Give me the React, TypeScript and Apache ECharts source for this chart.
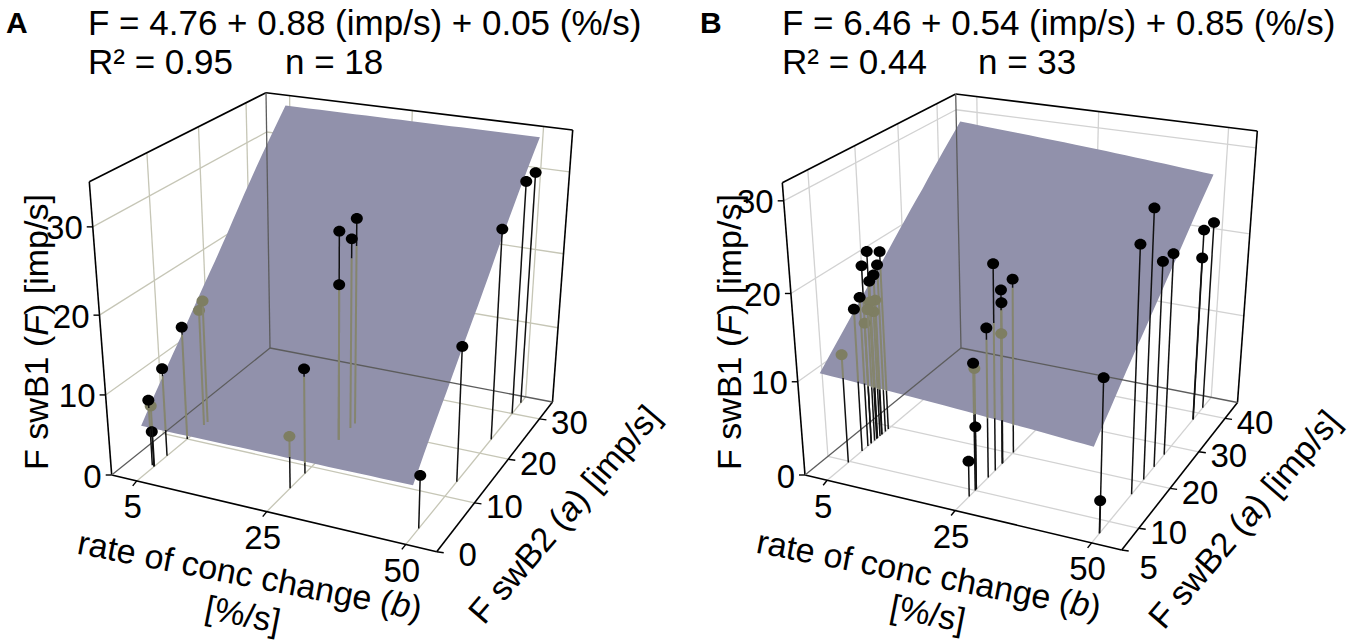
import React, { useEffect, useRef } from "react";
import * as echarts from "echarts";

type XY = [number, number];

// ---------------- data ----------------
// Panel A (n = 18): b = rate of conc change [%/s], a = F swB2 [imp/s], F = F swB1 [imp/s]
const rateA = [5, 4.6, 5, 5, 5, 5, 5, 25, 25, 25, 25, 25, 25, 50, 50, 50, 50, 50];
const swB2A = [3.4, 3.6, 3.5, 6.0, 10.0, 13.7, 14.5, 5.2, 8.5, 20.8, 16.7, 19.6, 16.7, 23.5, 30.0, 32.7, 13.4, 3.3];
const swB1A = [4.4, 8.2, 7.6, 11.1, 14.5, 15.1, 16.0, 6.4, 13.1, 26.4, 26.4, 24.4, 20.1, 26.6, 29.9, 30.0, 16.8, 6.3];

// Panel B (n = 33)
const rateB = [5, 5, 5, 5, 5, 5, 5, 5, 5, 5, 5, 5, 5, 5, 25, 25, 25, 25, 25, 25, 25, 25, 25, 25, 50, 50, 50, 50, 50, 50, 50, 50, 50];
const swB2B = [16.5, 19.3, 15.2, 18.6, 16.7, 17.7, 14.4, 13.0, 17.8, 16.6, 17.3, 15.2, 9.7, 16.0,
  15.4, 20.3, 17.3, 17.4, 13.5, 17.3, 10.0, 10.3, 10.3, 8.5,
  20.7, 16.9, 24.2, 27.6, 38.1, 41.7, 38.0, 7.3, 7.2];
const swB1B = [21.4, 20.5, 20.2, 19.2, 17.9, 18.3, 16.8, 15.9, 15.3, 15.5, 14.1, 13.5, 11.8, 14.8,
  22.8, 19.5, 19.3, 17.8, 16.3, 14.3, 13.6, 12.9, 6.6, 3.7,
  29.5, 26.8, 22.7, 22.5, 22.0, 21.8, 18.8, 16.0, 3.3];

// fitted plane: extent in (b, a) and its height F at corners LL, LR, UR, UL
const planeRateA = [5, 50];
const planeSwB2A = [1.5, 33.3];
const planeSwB1A = [6.1, 6.1, 34.1, 34.1];
const planeRateB = [5, 50];
const planeSwB2B = [5, 40.4];
const planeSwB1B = [11.5, 9.6, 27.7, 30.0];

// ticks
const rateTicks = [5, 25, 50];
const swB2TicksA = [0, 10, 20, 30];
const swB2TicksB = [5, 10, 20, 30, 40];
const swB1Ticks = [0, 10, 20, 30];

// axis scales (value knots -> fraction of the box edge)
const rateScaleA = { v: [1.15, 5, 25, 50, 55.55], f: [0, 0.077, 0.477, 0.905, 1] };
const swB2ScaleA = { v: [0, 10, 20, 30, 34.2], f: [0, 0.326, 0.618, 0.887, 1] };
const swB1ScaleA = { v: [0, 10, 20, 30, 35.1], f: [0, 0.273, 0.545, 0.846, 1] };
const rateScaleB = { v: [1.53, 5, 25, 50, 55.5], f: [0, 0.07, 0.474, 0.905, 1] };
const swB2ScaleB = { v: [5, 10, 20, 30, 40, 45], f: [0, 0.147, 0.418, 0.666, 0.892, 1] };
const swB1ScaleB = { v: [0, 10, 20, 30, 32], f: [0, 0.319, 0.621, 0.938, 1] };

// texts
const eqA = "F = 4.76 + 0.88 (imp/s) + 0.05 (%/s)";
const r2A = "R\u00B2 = 0.95";
const nA = "n = 18";
const eqB = "F = 6.46 + 0.54 (imp/s) + 0.85 (%/s)";
const r2B = "R\u00B2 = 0.44";
const nB = "n = 33";

// ---------------- layout ----------------
const FONT = 'Arial, "Liberation Sans", Helvetica, sans-serif';
const W = 1351;
const H = 640;

type Scale = { v: number[]; f: number[] };
type Corners = { O: XY; FR: XY; BR: XY; BL: XY; TL: XY; TFR: XY; TR: XY; TB: XY };
type Panel = { c: Corners; bS: Scale; aS: Scale; fS: Scale; grid: string; aFirstLabel: XY };

const panelA: Panel = {
  c: { O: [111.7, 475], FR: [436.7, 551.7], BR: [552.5, 402], BL: [270, 348], TL: [89.3, 181.7], TFR: [447.6, 236.1], TR: [572.7, 130], TB: [266, 92.7] },
  bS: rateScaleA, aS: swB2ScaleA, fS: swB1ScaleA, grid: "#c6c6b6", aFirstLabel: [31, 3],
};
const panelB: Panel = {
  c: { O: [805, 475], FR: [1121.7, 550], BR: [1237.5, 402.5], BL: [961, 348], TL: [782.3, 182.7], TFR: [1132, 234.2], TR: [1257.3, 131], TB: [955.7, 94] },
  bS: rateScaleB, aS: swB2ScaleB, fS: swB1ScaleB, grid: "#d2d2d2", aFirstLabel: [27, 17],
};

function warp(sc: Scale, v: number): number {
  const n = sc.v.length;
  let i = 0;
  if (v <= sc.v[0]) i = 0;
  else if (v >= sc.v[n - 1]) i = n - 2;
  else { while (i < n - 2 && v > sc.v[i + 1]) i++; }
  const u = (v - sc.v[i]) / (sc.v[i + 1] - sc.v[i]);
  return sc.f[i] + u * (sc.f[i + 1] - sc.f[i]);
}
function bil(p00: XY, p10: XY, p11: XY, p01: XY, s: number, t: number): XY {
  const a = (1 - s) * (1 - t), b = s * (1 - t), c = s * t, d = (1 - s) * t;
  return [a * p00[0] + b * p10[0] + c * p11[0] + d * p01[0], a * p00[1] + b * p10[1] + c * p11[1] + d * p01[1]];
}
function project(P: Panel, b: number, a: number, f: number): XY {
  const s = warp(P.bS, b), t = warp(P.aS, a), w = warp(P.fS, f);
  const c = P.c;
  const lo = bil(c.O, c.FR, c.BR, c.BL, s, t);
  const hi = bil(c.TL, c.TFR, c.TR, c.TB, s, t);
  return [lo[0] + w * (hi[0] - lo[0]), lo[1] + w * (hi[1] - lo[1])];
}
type Plane = { b: number[]; a: number[]; F: number[] };
function planeF(pl: Plane, b: number, a: number): number {
  const u = (b - pl.b[0]) / (pl.b[1] - pl.b[0]);
  const v = (a - pl.a[0]) / (pl.a[1] - pl.a[0]);
  return pl.F[0] * (1 - u) * (1 - v) + pl.F[1] * u * (1 - v) + pl.F[2] * u * v + pl.F[3] * (1 - u) * v;
}
function planePoly(P: Panel, pl: Plane): XY[] {
  const [b0, b1] = pl.b, [a0, a1] = pl.a;
  const n = 24;
  const pts: XY[] = [];
  const edge = (bs: number, as: number, be: number, ae: number) => {
    for (let k = 0; k < n; k++) {
      const u = k / n;
      const b = bs + (be - bs) * u, a = as + (ae - as) * u;
      pts.push(project(P, b, a, planeF(pl, b, a)));
    }
  };
  edge(b0, a0, b1, a0); edge(b1, a0, b1, a1); edge(b1, a1, b0, a1); edge(b0, a1, b0, a0);
  return pts;
}
function inside(p: XY, poly: XY[]): boolean {
  let c = false;
  for (let i = 0, j = poly.length - 1; i < poly.length; j = i++) {
    const [xi, yi] = poly[i], [xj, yj] = poly[j];
    if ((yi > p[1]) !== (yj > p[1]) && p[0] < ((xj - xi) * (p[1] - yi)) / (yj - yi) + xi) c = !c;
  }
  return c;
}

function panelSeries(P: Panel, rate: number[], swB2: number[], swB1: number[], pl: Plane, aTicks: number[]) {
  const bmin = P.bS.v[0], bmax = P.bS.v[P.bS.v.length - 1];
  const amin = P.aS.v[0], amax = P.aS.v[P.aS.v.length - 1];
  const fmax = P.fS.v[P.fS.v.length - 1];
  const pr = (b: number, a: number, f: number) => project(P, b, a, f);
  const poly = planePoly(P, pl);
  const data = rate.map((b, i) => [b, swB2[i], swB1[i]]);

  const frame = {
    type: "custom", coordinateSystem: "cartesian2d", silent: true, clip: false, z: 1,
    data: [[0, 0]],
    renderItem: (_p: any, api: any) => {
      const kids: any[] = [];
      const line = (p: XY, q: XY, stroke: string, lw: number) => {
        const A = api.coord(p), B = api.coord(q);
        kids.push({ type: "line", shape: { x1: A[0], y1: A[1], x2: B[0], y2: B[1] }, style: { stroke, lineWidth: lw } });
      };
      const text = (p: XY, dx: number, dy: number, str: string, align: string) => {
        const A = api.coord(p);
        kids.push({ type: "text", x: A[0] + dx, y: A[1] + dy, style: { text: str, fill: "#000", fontSize: 33, fontFamily: FONT, align, textAlign: align, verticalAlign: "middle", textVerticalAlign: "middle" } });
      };
      const g = P.grid;
      // left wall (b = min)
      aTicks.forEach((a) => { if (a > amin + 1e-6) line(pr(bmin, a, 0), pr(bmin, a, fmax), g, 1.3); });
      swB1Ticks.forEach((f) => { if (f > 0) line(pr(bmin, amin, f), pr(bmin, amax, f), g, 1.3); });
      // back wall (a = max)
      rateTicks.forEach((b) => line(pr(b, amax, 0), pr(b, amax, fmax), g, 1.3));
      swB1Ticks.forEach((f) => { if (f > 0) line(pr(bmin, amax, f), pr(bmax, amax, f), g, 1.3); });
      // floor
      rateTicks.forEach((b) => line(pr(b, amin, 0), pr(b, amax, 0), g, 1.3));
      aTicks.forEach((a) => { if (a > amin + 1e-6) line(pr(bmin, a, 0), pr(bmax, a, 0), g, 1.3); });
      // box edges
      const c = P.c;
      [[c.O, c.TL], [c.TL, c.TB], [c.TB, c.TR], [c.TR, c.BR], [c.O, c.FR], [c.FR, c.BR]].forEach(([p, q]) => line(p as XY, q as XY, "#000", 1.6));
      // ticks and labels
      swB1Ticks.forEach((f) => {
        const p = pr(bmin, amin, f);
        line(p, [p[0] - 6, p[1]], "#000", 1.4);
        text(p, -10, 1, String(f), "right");
      });
      rateTicks.forEach((b) => {
        const p = pr(b, amin, 0);
        line(p, [p[0] - 4, p[1] + 5], "#000", 1.4);
        text(p, -4, 26, String(b), "center");
      });
      aTicks.forEach((a, i) => {
        const p = pr(bmax, a, 0);
        line(p, [p[0] + 7, p[1] + 1], "#000", 1.4);
        const off: XY = i === 0 ? P.aFirstLabel : [30, 4];
        text(p, off[0], off[1], String(a), "center");
      });
      return { type: "group", children: kids };
    },
  };

  const plane = {
    type: "custom", coordinateSystem: "cartesian2d", silent: true, clip: false, z: 2,
    data: [[0, 0]],
    renderItem: (_p: any, api: any) => {
      const c = P.c;
      const kids: any[] = [{ type: "polygon", shape: { points: poly.map((p) => api.coord(p)) }, style: { fill: "#9191ab" } }];
      [[c.TB, c.BL], [c.BL, c.O], [c.BL, c.BR]].forEach(([p, q]) => {
        const A = api.coord(p), B = api.coord(q);
        kids.push({ type: "line", shape: { x1: A[0], y1: A[1], x2: B[0], y2: B[1] }, style: { stroke: "#5c5c5c", lineWidth: 1.3 } });
      });
      return { type: "group", children: kids };
    },
  };

  const stems = (behindLayer: boolean, z: number) => ({
    type: "custom", coordinateSystem: "cartesian2d", silent: true, clip: false, z,
    data,
    renderItem: (_p: any, api: any) => {
      const b = api.value(0), a = api.value(1), f = api.value(2);
      const pf = planeF(pl, b, a);
      const isBehind = (h: number) => h < pf && inside(pr(b, a, h), poly);
      const N = Math.max(10, Math.ceil(f * 3));
      const kids: any[] = [];
      let start = 0;
      let cls = isBehind(f / N / 2);
      const flush = (h0: number, h1: number, behind: boolean) => {
        if (behind !== behindLayer) return;
        const A = api.coord(pr(b, a, h0)), B = api.coord(pr(b, a, h1));
        kids.push({ type: "line", shape: { x1: A[0], y1: A[1], x2: B[0], y2: B[1] }, style: behind ? { stroke: "#85856e", lineWidth: 2 } : { stroke: "#111", lineWidth: 1.5 } });
      };
      for (let k = 1; k < N; k++) {
        const hm = (f * (k + 0.5)) / N;
        const cl = isBehind(hm);
        if (cl !== cls) { flush(start, (f * k) / N, cls); start = (f * k) / N; cls = cl; }
      }
      flush(start, f, cls);
      const headBehind = isBehind(f);
      if (headBehind === behindLayer) {
        const C = api.coord(pr(b, a, f));
        kids.push({ type: "ellipse", shape: { cx: C[0], cy: C[1], rx: 6, ry: 5.4 }, style: { fill: headBehind ? "#7e7e62" : "#000" } });
      }
      return { type: "group", children: kids };
    },
  });

  return [frame, plane, stems(true, 3), stems(false, 4)];
}

function headerText(x: number, y: number, text: string, extra: any = {}) {
  return { type: "text", x, y, silent: true, style: { text, fill: "#000", fontSize: 35, fontFamily: FONT, align: "left", verticalAlign: "middle", textAlign: "left", textVerticalAlign: "middle", ...extra } };
}
function axisTitle(x: number, y: number, rotation: number, text: string) {
  return {
    type: "text", x, y, rotation, silent: true,
    style: {
      text, fill: "#000", fontSize: 34, fontFamily: FONT, align: "center", verticalAlign: "middle", textAlign: "center", textVerticalAlign: "middle",
      rich: { i: { fontStyle: "italic", fontSize: 34, fontFamily: FONT, fill: "#000" } },
    },
  };
}

export default function App() {
  const ref = useRef<HTMLDivElement>(null);
  useEffect(() => {
    document.body.style.margin = "0";
    if (!ref.current) return;
    const chart = echarts.init(ref.current, undefined, { renderer: "svg" });
    const planeA: Plane = { b: planeRateA, a: planeSwB2A, F: planeSwB1A };
    const planeB: Plane = { b: planeRateB, a: planeSwB2B, F: planeSwB1B };
    const rotB = (-11 * Math.PI) / 180;
    const rotA = (49.4 * Math.PI) / 180;
    chart.setOption({
      animation: false,
      backgroundColor: "#fff",
      grid: { left: 0, right: 0, top: 0, bottom: 0 },
      xAxis: { type: "value", min: 0, max: W, show: false },
      yAxis: { type: "value", min: 0, max: H, inverse: true, show: false },
      series: [
        ...panelSeries(panelA, rateA, swB2A, swB1A, planeA, swB2TicksA),
        ...panelSeries(panelB, rateB, swB2B, swB1B, planeB, swB2TicksB),
      ],
      graphic: {
        elements: [
          headerText(6, 22, "A", { fontWeight: "bold", fontSize: 30 }),
          headerText(88, 22, eqA),
          headerText(88, 61, r2A),
          headerText(285, 61, nA),
          headerText(700, 22, "B", { fontWeight: "bold", fontSize: 30 }),
          headerText(782, 22, eqB),
          headerText(782, 61, r2B),
          headerText(978, 61, nB),
          axisTitle(36, 332, Math.PI / 2, "F swB1 ({i|F}) [imp/s]"),
          axisTitle(729, 332, Math.PI / 2, "F swB1 ({i|F}) [imp/s]"),
          axisTitle(250, 575, rotB, "rate of conc change ({i|b})"),
          axisTitle(243, 614, rotB, "[%/s]"),
          axisTitle(929, 574, rotB, "rate of conc change ({i|b})"),
          axisTitle(928, 613, rotB, "[%/s]"),
          axisTitle(564, 514, rotA, "F swB2 ({i|a}) [imp/s]"),
          axisTitle(1244, 519, rotA, "F swB2 ({i|a}) [imp/s]"),
        ],
      },
    });
    return () => chart.dispose();
  }, []);
  return <div ref={ref} style={{ width: W, height: H, overflow: "hidden" }} />;
}
